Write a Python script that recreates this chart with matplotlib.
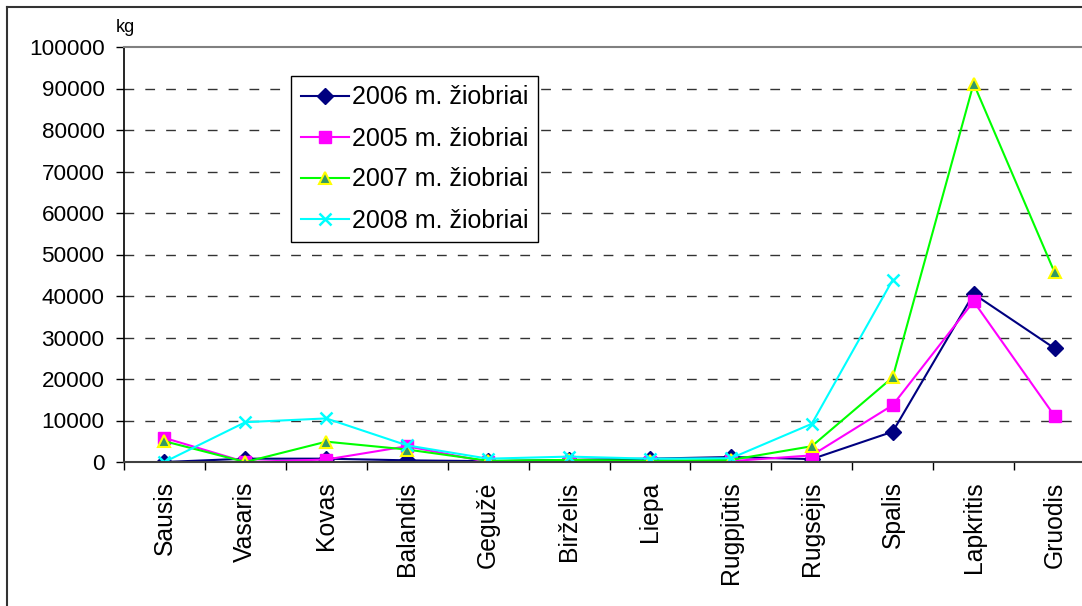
import numpy as np
import matplotlib
matplotlib.use("Agg")
import matplotlib.pyplot as plt
from matplotlib.lines import Line2D

plt.rcParams['font.family'] = ['Liberation Sans', 'DejaVu Sans']

months = ['Sausis', 'Vasaris', 'Kovas', 'Balandis', 'Gegužė', 'Birželis',
          'Liepa', 'Rugpjūtis', 'Rugsėjis', 'Spalis', 'Lapkritis', 'Gruodis']
y2006 = [0, 800, 800, 400, 200, 500, 800, 1200, 700, 7300, 40500, 27400]
y2005 = [5800, 0, 600, 3800, 0, 0, 0, 200, 1600, 13700, 38700, 11100]
y2007 = [5000, 0, 4900, 3000, 300, 500, 300, 500, 3800, 20400, 91200, 45700]
y2008 = [0, 9600, 10500, 4000, 800, 1300, 800, 900, 9200, 43900, np.nan, np.nan]
yticks = list(range(0, 100001, 10000))

W, H = 1082, 606
fig = plt.figure(figsize=(W / 100, H / 100), dpi=100)
ax = fig.add_axes([124 / W, 144 / H, (1095 - 124) / W, 415 / H])

x = np.arange(len(months))
ax.plot(x, y2006, color='#000080', lw=1.5, marker='D', ms=8,
        mfc='#000080', mec='#000080', label='2006 m. žiobriai')
ax.plot(x, y2005, color='#FF00FF', lw=1.5, marker='s', ms=8,
        mfc='#FF00FF', mec='#FF00FF', label='2005 m. žiobriai')
ax.plot(x, y2007, color='#00FF00', lw=1.5, marker='^', ms=9,
        mfc='#339966', mec='#FFFF00', mew=1.5, label='2007 m. žiobriai')
ax.plot(x, y2008, color='#00FFFF', lw=1.5, marker='x', ms=9,
        mew=1.8, label='2008 m. žiobriai')

ax.set_xlim(-0.5, 11.5)
ax.set_ylim(0, 100000)
ax.set_yticks(yticks)
ax.set_yticklabels([str(v) for v in yticks], fontsize=16.2)
ax.tick_params(axis='y', direction='out', length=6, width=1, pad=8)

# boundary ticks without labels, month names at category centres
ax.set_xticks(np.arange(-0.5, 12, 1))
ax.set_xticklabels([])
ax.tick_params(axis='x', which='major', direction='out', length=6, width=1)
ax.set_xticks(x, minor=True)
ax.set_xticklabels(months, minor=True, rotation=90, fontsize=17.8)
ax.tick_params(axis='x', which='minor', length=0, pad=14)

for v in yticks[1:-1]:
    ax.axhline(v, color='#333333', lw=1, dashes=(7, 8), zorder=0)

ax.spines['top'].set_color('#808080')
ax.spines['top'].set_linewidth(1.5)
ax.spines['left'].set_linewidth(1.2)
ax.spines['bottom'].set_color('#404040')
ax.spines['bottom'].set_linewidth(1.5)
ax.spines['right'].set_visible(False)

fig.text(125 / W, 1 - 28 / H, 'kg', fontsize=13, ha='center', va='center')

leg = ax.legend(loc='upper left', bbox_to_anchor=(291 / W, 1 - 76 / H),
                bbox_transform=fig.transFigure, fontsize=18, frameon=True,
                fancybox=False, edgecolor='black', framealpha=1,
                handlelength=1.95, labelspacing=0.68, borderpad=0.38,
                handletextpad=0.1, borderaxespad=0)
leg.get_frame().set_linewidth(1)

# outer chart border
fig.add_artist(Line2D([7 / W, 1], [1 - 7 / H, 1 - 7 / H], color='#333333', lw=1.5))
fig.add_artist(Line2D([7 / W, 7 / W], [0, 1 - 7 / H], color='#333333', lw=1.5))

fig.savefig('out.png', dpi=100)
